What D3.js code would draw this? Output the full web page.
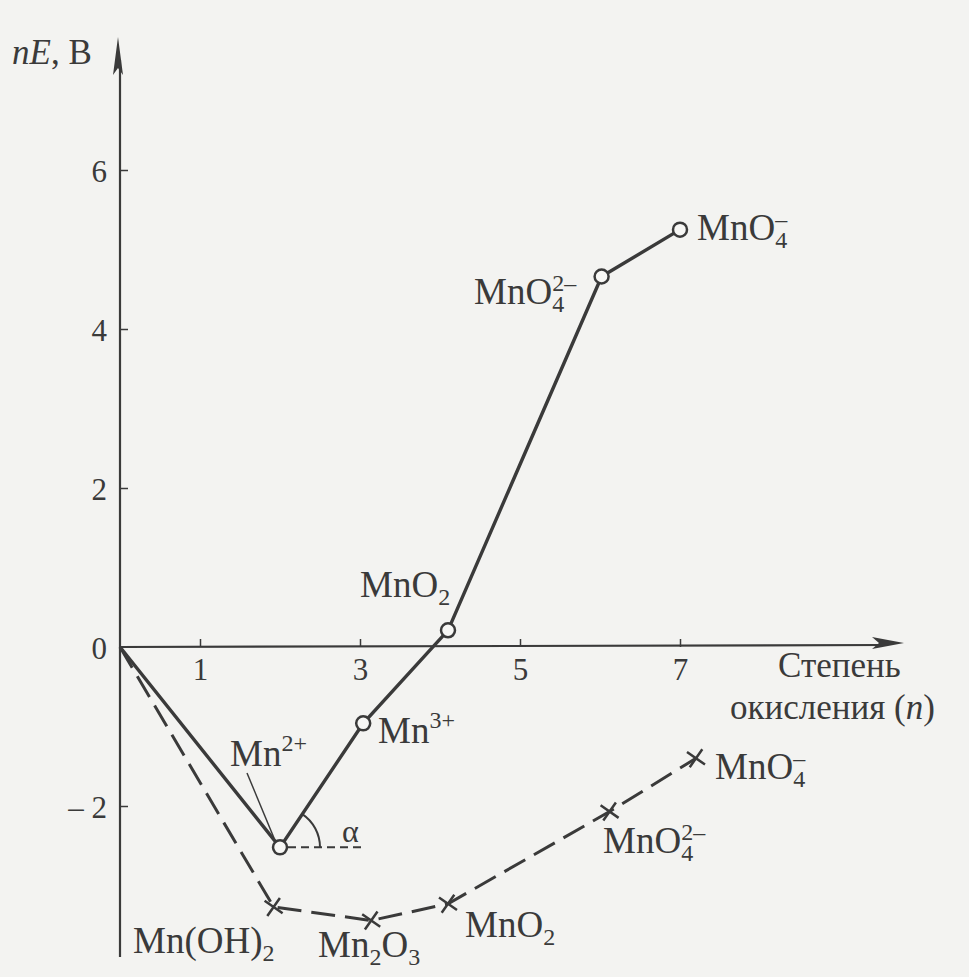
<!DOCTYPE html>
<html><head><meta charset="utf-8">
<script src="https://cdn.jsdelivr.net/npm/d3@7"></script>
<style>
html,body{margin:0;padding:0;background:#f3f3f1;}
svg{display:block;}
text{font-family:"Liberation Serif","DejaVu Serif",serif;fill:#3a3a3a;}
</style></head>
<body>
<svg id="c" width="969" height="977"></svg>
<script>
// ---- data ----
const xTicks = [1, 3, 5, 7];
const yTicks = [6, 4, 2, 0, -2];
// solid series (aqueous species, open circles)
const solidN = [0, 2, 3.04, 4.1, 6.02, 7.0];
const solidE = [0, -2.52, -0.96, 0.21, 4.66, 5.25];
const solidLabels = ["", "Mn2+", "Mn3+", "MnO2", "MnO4 2-", "MnO4 -"];
// dashed series (hydroxide / oxide species, crosses)
const dashN = [0, 1.92, 3.14, 4.1, 6.12, 7.2];
const dashE = [0, -3.27, -3.44, -3.23, -2.07, -1.40];
const dashLabels = ["", "Mn(OH)2", "Mn2O3", "MnO2", "MnO4 2-", "MnO4 -"];

const svg = d3.select("#c");
const ink = "#3a3a3a";
const x = d3.scaleLinear().domain([0, 7]).range([120, 680]);
const y = d3.scaleLinear().domain([0, 6]).range([647, 170]);

// axes
const gx = svg.append("g").attr("transform", `translate(0,${y(0)})`)
  .call(d3.axisBottom(x).tickValues(xTicks).tickSize(-8).tickPadding(0).tickFormat(d3.format("d")));
gx.select(".domain").remove();
gx.selectAll(".tick line").attr("stroke", ink).attr("stroke-width", 1.5);
gx.selectAll(".tick text").attr("y", 33).attr("dy", 0).attr("font-size", 31).attr("fill", ink)
  .attr("font-family", "Liberation Serif");

const gy = svg.append("g").attr("transform", `translate(${x(0)},0)`)
  .call(d3.axisLeft(y).tickValues(yTicks).tickSize(-8).tickPadding(13)
    .tickFormat(d => d < 0 ? "– " + Math.abs(d) : String(d)));
gy.select(".domain").remove();
gy.selectAll(".tick line").attr("stroke", ink).attr("stroke-width", 1.5)
  .attr("opacity", d => d === 0 ? 0 : 1);
gy.selectAll(".tick text").attr("font-size", 31).attr("fill", ink).attr("dy", "0.36em")
  .attr("font-family", "Liberation Serif");

// axis lines with arrows
svg.append("line").attr("x1", x(0)).attr("y1", 957).attr("x2", x(0)).attr("y2", 60)
  .attr("stroke", ink).attr("stroke-width", 2.2);
svg.append("path").attr("d", `M${x(0)-2},37 L${x(0)-7},75 L${x(0)-2},68 L${x(0)+3},75 Z`)
  .attr("fill", ink);
svg.append("line").attr("x1", x(0)).attr("y1", y(0)).attr("x2", 885).attr("y2", y(0) - 2)
  .attr("stroke", ink).attr("stroke-width", 2.2);
svg.append("path").attr("d", `M904,643 L872,637 L879,643 L872,649 Z`).attr("fill", ink);

// axis titles
svg.append("text").attr("x", 12).attr("y", 64).attr("font-size", 35)
  .html('<tspan font-style="italic">nE</tspan>,  B');
svg.append("text").attr("x", 778).attr("y", 677).attr("font-size", 35).text("Степень");
svg.append("text").attr("x", 730).attr("y", 719).attr("font-size", 35)
  .html('окисления (<tspan font-style="italic">n</tspan>)');

// lines
const line = d3.line().x(d => x(d[0])).y(d => y(d[1]));
const solid = solidN.map((n, i) => [n, solidE[i]]);
const dash = dashN.map((n, i) => [n, dashE[i]]);
svg.append("path").attr("d", line(dash)).attr("fill", "none").attr("stroke", ink)
  .attr("stroke-width", 3).attr("stroke-dasharray", "24,10");
svg.append("path").attr("d", line(solid)).attr("fill", "none").attr("stroke", ink)
  .attr("stroke-width", 3.4);

// alpha annotation
const p2 = solid[1], p3 = solid[2];
const cx = x(p2[0]), cy = y(p2[1]);
svg.append("line").attr("x1", cx + 8).attr("y1", cy).attr("x2", cx + 82).attr("y2", cy)
  .attr("stroke", ink).attr("stroke-width", 2).attr("stroke-dasharray", "8,5");
const ang = Math.atan2(y(p3[1]) - cy, x(p3[0]) - cx);
const R = 40;
svg.append("path").attr("d",
  `M${cx + R*Math.cos(ang)},${cy + R*Math.sin(ang)} A${R},${R} 0 0 1 ${cx + R},${cy}`)
  .attr("fill", "none").attr("stroke", ink).attr("stroke-width", 2);
svg.append("text").attr("x", 342).attr("y", 842).attr("font-size", 32).text("α");

// markers
svg.selectAll(".pt").data(solid.slice(1)).join("circle")
  .attr("cx", d => x(d[0])).attr("cy", d => y(d[1])).attr("r", 7)
  .attr("fill", "#f7f7f5").attr("stroke", ink).attr("stroke-width", 2.5);
const s = 9;
svg.selectAll(".xm").data(dash.slice(1)).join("path")
  .attr("d", d => { const px = x(d[0]), py = y(d[1]);
    return `M${px-s},${py-s*0.7}L${px+s},${py+s*0.7}M${px-s*0.7},${py+s}L${px+s*0.7},${py-s}`; })
  .attr("fill", "none").attr("stroke", ink).attr("stroke-width", 2.5);

// Mn2+ leader
svg.append("line").attr("x1", 247).attr("y1", 773).attr("x2", 274).attr("y2", 838)
  .attr("stroke", ink).attr("stroke-width", 1.5);

// chemical labels
const FS = 37, SS = 24;
function chem(txt, px, py) {
  const t = svg.append("text").attr("x", px).attr("y", py).attr("font-size", FS);
  const add = (s, opt = {}) => t.append("tspan").text(s)
    .attr("font-size", opt.fs || FS).attr("dy", opt.dy || 0).attr("dx", opt.dx || 0);
  if (txt === "Mn2+") { add("Mn"); add("2+", {fs: SS, dy: -15}); }
  else if (txt === "Mn3+") { add("Mn"); add("3+", {fs: SS, dy: -15}); }
  else if (txt === "MnO2") { add("MnO"); add("2", {fs: SS, dy: 8}); }
  else if (txt === "Mn2O3") { add("Mn"); add("2", {fs: SS, dy: 8}); add("O", {dy: -8}); add("3", {fs: SS, dy: 8}); }
  else if (txt === "Mn(OH)2") { add("Mn(OH)"); add("2", {fs: SS, dy: 8}); }
  else if (txt === "MnO4 -") { add("MnO"); add("4", {fs: SS, dy: 8}); add("–", {fs: SS, dy: -21, dx: -12}); }
  else if (txt === "MnO4 2-") { add("MnO"); add("4", {fs: SS, dy: 8}); add("2–", {fs: SS, dy: -21, dx: -12}); }
}
const solidPos = [null, [230, 766], [378, 743], [360, 597], [474, 304], [697, 240]];
const dashPos = [null, [133, 953], [318, 957], [465, 937], [603, 853], [715, 779]];
solidLabels.forEach((l, i) => { if (l) chem(l, solidPos[i][0], solidPos[i][1]); });
dashLabels.forEach((l, i) => { if (l) chem(l, dashPos[i][0], dashPos[i][1]); });
</script>
</body></html>
